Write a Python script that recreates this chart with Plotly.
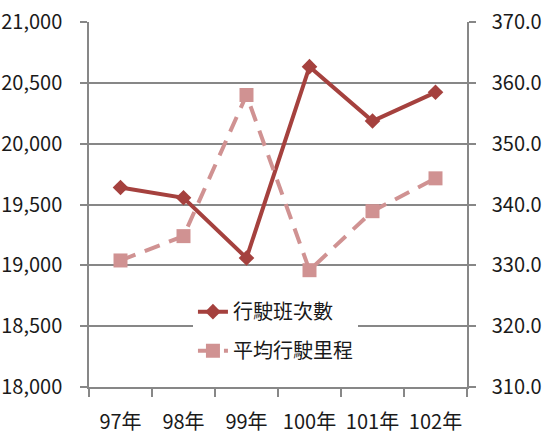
import plotly.graph_objects as go

years = ["97年", "98年", "99年", "100年", "101年", "102年"]
trips = [19640, 19555, 19060, 20633, 20186, 20422]
avg_km = [330.8, 334.8, 358.0, 329.2, 338.9, 344.3]
name_trips = "行駛班次數"
name_km = "平均行駛里程"

c1 = "#A5413E"
c2 = "#D09292"
axis_col = "#878787"
font_fam = "Noto Sans CJK TC, Noto Sans, sans-serif"

fig = go.Figure()
fig.add_trace(go.Scatter(
    x=years, y=trips, name=name_trips, mode="lines+markers",
    line=dict(color=c1, width=4),
    marker=dict(symbol="diamond", size=12, color=c1),
    legendgroup="a",
))
fig.add_trace(go.Scatter(
    x=years, y=avg_km, name=name_km, mode="lines+markers", yaxis="y2",
    line=dict(color=c2, width=4, dash="16px,10px"),
    marker=dict(symbol="square", size=14, color=c2),
    legendgroup="b",
))

fig.update_layout(
    width=544, height=445,
    margin=dict(l=89, r=77, t=22, b=58, autoexpand=False),
    paper_bgcolor="white", plot_bgcolor="white",
    font=dict(family=font_fam, size=20, color="#1a1a1a"),
    showlegend=True,
    legend=dict(
        x=0.275, y=0.153, xanchor="left", yanchor="middle",
        bgcolor="white", font=dict(size=20, color="#1a1a1a"),
        tracegroupgap=10, itemwidth=30,
    ),
    xaxis=dict(
        type="category", showgrid=False, showline=True, linecolor=axis_col, linewidth=1.5,
        ticks="outside", tickson="boundaries", ticklen=8, tickcolor=axis_col, tickwidth=1.5,
        ticklabelstandoff=16, range=[-0.5, 5.5], tickangle=0, automargin=False,
    ),
    yaxis=dict(
        range=[18000, 21000], dtick=500, tickformat=",",
        showgrid=True, gridcolor=axis_col, gridwidth=1.5,
        showline=True, linecolor=axis_col, linewidth=1.5,
        ticks="outside", ticklen=7, tickcolor=axis_col, tickwidth=1.5,
        ticklabelstandoff=14, zeroline=False, automargin=False,
    ),
    yaxis2=dict(
        range=[310, 370], dtick=10, tickformat=".1f", overlaying="y", side="right",
        showgrid=False, showline=True, linecolor=axis_col, linewidth=1.5,
        ticks="outside", ticklen=7, tickcolor=axis_col, tickwidth=1.5,
        ticklabelstandoff=12, zeroline=False, automargin=False,
    ),
)

fig.write_html("out.html", config={"displayModeBar": False},
               post_script="document.body.style.margin='0px';")
